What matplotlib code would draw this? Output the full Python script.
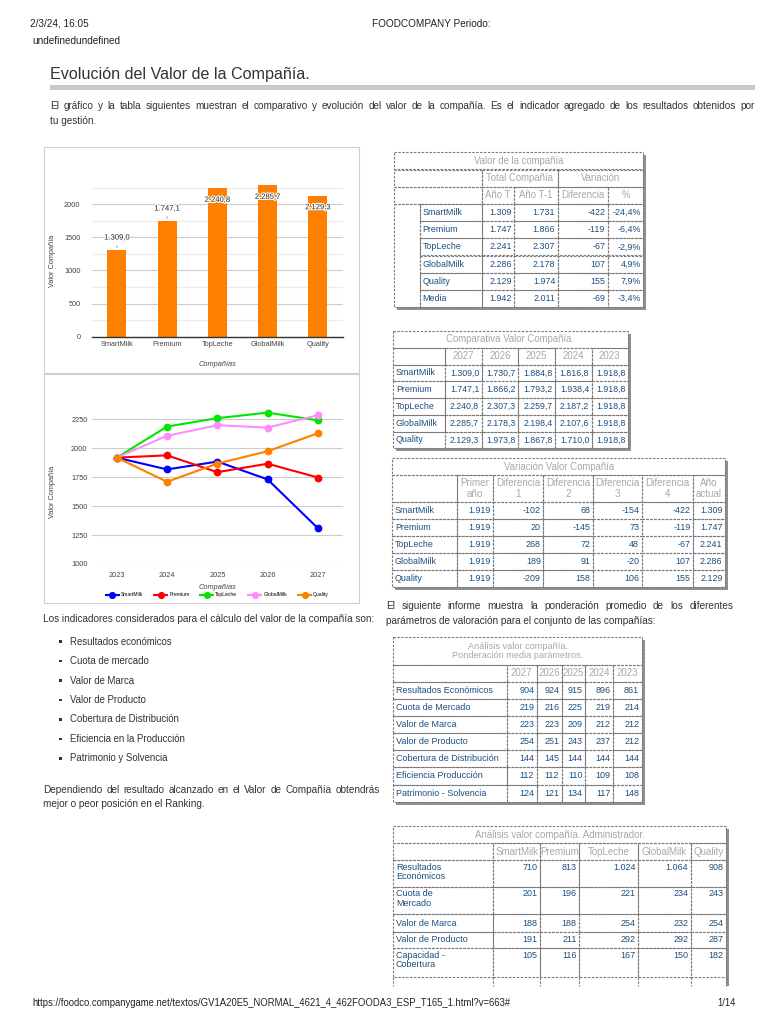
import numpy as np
import matplotlib
matplotlib.use('Agg')
import matplotlib.pyplot as plt
from matplotlib.patches import Rectangle
import matplotlib.patheffects as pe
from matplotlib.ticker import MultipleLocator

plt.rcParams['font.family'] = ['Liberation Sans', 'DejaVu Sans']

# ---------------- data ----------------
companies = ['SmartMilk', 'Premium', 'TopLeche', 'GlobalMilk', 'Quality']
years = ['2023', '2024', '2025', '2026', '2027']
value_smartmilk = [1918.8, 1816.8, 1884.8, 1730.7, 1309.0]
value_premium = [1918.8, 1938.4, 1793.2, 1866.2, 1747.1]
value_topleche = [1918.8, 2187.2, 2259.7, 2307.3, 2240.8]
value_globalmilk = [1918.8, 2107.6, 2198.4, 2178.3, 2285.7]
value_quality = [1918.8, 1710.0, 1867.8, 1973.8, 2129.3]
series_colors = ['#0000ff', '#ff0000', '#00e600', '#ff8cff', '#ff8000']

# table 1
t1_rows = ['SmartMilk', 'Premium', 'TopLeche', 'GlobalMilk', 'Quality', 'Media']
t1_anio_t = [1309, 1747, 2241, 2286, 2129, 1942]
t1_anio_t1 = [1731, 1866, 2307, 2178, 1974, 2011]
t1_diferencia = [-422, -119, -67, 107, 155, -69]
t1_pct = [-24.4, -6.4, -2.9, 4.9, 7.9, -3.4]

# table 3
t3_primer = [1919, 1919, 1919, 1919, 1919]
t3_dif1 = [-102, 20, 268, 189, -209]
t3_dif2 = [68, -145, 72, 91, 158]
t3_dif3 = [-154, 73, 48, -20, 106]
t3_dif4 = [-422, -119, -67, 107, 155]
t3_actual = [1309, 1747, 2241, 2286, 2129]

# table 4
t4_params = ['Resultados Económicos', 'Cuota de Mercado', 'Valor de Marca', 'Valor de Producto',
             'Cobertura de Distribución', 'Eficiencia Producción', 'Patrimonio - Solvencia']
t4_years = ['2027', '2026', '2025', '2024', '2023']
t4_values = [[904, 924, 915, 896, 861],
             [219, 216, 225, 219, 214],
             [223, 223, 209, 212, 212],
             [254, 251, 243, 237, 212],
             [144, 145, 144, 144, 144],
             [112, 112, 110, 109, 108],
             [124, 121, 134, 117, 148]]

# table 5
t5_params = ['Resultados\nEconómicos', 'Cuota de\nMercado', 'Valor de Marca', 'Valor de Producto',
             'Capacidad -\nCobertura']
t5_smartmilk = [710, 201, 188, 191, 105]
t5_premium = [813, 196, 188, 211, 116]
t5_topleche = [1024, 221, 254, 292, 167]
t5_globalmilk = [1064, 234, 232, 292, 150]
t5_quality = [908, 243, 254, 287, 182]

indicators = ['Resultados económicos', 'Cuota de mercado', 'Valor de Marca', 'Valor de Producto',
              'Cobertura de Distribución', 'Eficiencia en la Producción', 'Patrimonio y Solvencia']


def es_int(v):
    s = f"{abs(int(round(v))):,}".replace(',', '.')
    return ('-' if v < 0 else '') + s


def es_1(v):
    s = f"{v:,.1f}"
    return s.replace(',', 'X').replace('.', ',').replace('X', '.')


def es_pct(v):
    return f"{v:.1f}".replace('.', ',') + '%'


series = [value_smartmilk, value_premium, value_topleche, value_globalmilk, value_quality]
current_values = [s[-1] for s in series]

# ---------------- figure ----------------
W, H = 768, 1024
fig = plt.figure(figsize=(7.68, 10.24), dpi=100)
fig.patch.set_facecolor('white')
renderer = fig.canvas.get_renderer()

TXT = '#333333'
BLUE = '#1b4f80'
GREYT = '#a8a8a8'
DASH = '#7a7a7a'
FS_P = 7.2
FS_HEAD = 6.9
FS_DATA = 6.4


def axrect(x0, y0, x1, y1):
    return [x0 / W, 1 - y1 / H, (x1 - x0) / W, (y1 - y0) / H]


ov = fig.add_axes([0, 0, 1, 1])
ov.set_xlim(0, W)
ov.set_ylim(H, 0)
ov.axis('off')


def justify(x0, x1, y, text, fs=FS_P, color=TXT):
    words = text.split(' ')
    widths = []
    for w in words:
        t = ov.text(0, 0, w, fontsize=fs)
        widths.append(t.get_window_extent(renderer).width)
        t.remove()
    gap = (x1 - x0 - sum(widths)) / (len(words) - 1)
    x = x0
    for w, wd in zip(words, widths):
        ov.text(x, y, w, fontsize=fs, color=color, va='center')
        x += wd + gap


# header / footer
ov.text(30, 24, '2/3/24, 16:05', fontsize=7.2, color='#222', va='center')
ov.text(372, 24, 'FOODCOMPANY Periodo:', fontsize=7.2, color='#222', va='center')
ov.text(32, 41, 'undefinedundefined', fontsize=7.2, color='#222', va='center')
ov.text(32, 1003, 'https://foodco.companygame.net/textos/GV1A20E5_NORMAL_4621_4_462FOODA3_ESP_T165_1.html?v=663#',
        fontsize=6.85, color='#222', va='center')
ov.text(736, 1003, '1/14', fontsize=6.85, color='#222', va='center', ha='right')

ov.text(50, 75, 'Evolución del Valor de la Compañía.', fontsize=11.6, color=TXT, va='center')
ov.add_patch(Rectangle((50, 84.5), 705, 5.5, fc='#c9c9c9', ec='none'))
justify(50, 755, 106, 'El gráfico y la tabla siguientes muestran el comparativo y evolución del valor de la compañía. '
        'Es el indicador agregado de los resultados obtenidos por')
ov.text(50, 121, 'tu gestión.', fontsize=FS_P, color=TXT, va='center')

# left text block
ov.text(43, 619, 'Los indicadores considerados para el cálculo del valor de la compañía son:',
        fontsize=FS_P, color=TXT, va='center')
for i, name in enumerate(indicators):
    yy = 641.7 + i * 19.43
    ov.add_patch(Rectangle((59, yy - 1.3), 2.6, 2.6, fc='#333', ec='none'))
    ov.text(69.5, yy, name, fontsize=6.9, color=TXT, va='center')
justify(43, 380, 790, 'Dependiendo del resultado alcanzado en el Valor de Compañía obtendrás')
ov.text(43, 804, 'mejor o peor posición en el Ranking.', fontsize=FS_P, color=TXT, va='center')

justify(386, 733, 606, 'El siguiente informe muestra la ponderación promedio de los diferentes')
ov.text(386, 621, 'parámetros de valoración para el conjunto de las compañías:',
        fontsize=FS_P, color=TXT, va='center')

# chart frames
ov.add_patch(Rectangle((44, 147), 315, 226, fill=False, ec='#cfcfcf', lw=0.8))
ov.add_patch(Rectangle((44, 374), 315, 229, fill=False, ec='#cfcfcf', lw=0.8))

# ---------------- bar chart ----------------
ax1 = fig.add_axes(axrect(91.7, 184.4, 343, 336.7))
ax1.set_facecolor('none')
xpos = np.arange(len(companies))
ax1.bar(xpos, current_values, width=0.38, color='#ff8000', zorder=3)
ax1.set_xlim(-0.5, 4.5)
ax1.set_ylim(0, 2300)
ax1.yaxis.set_major_locator(MultipleLocator(500))
ax1.yaxis.set_minor_locator(MultipleLocator(250))
ax1.set_yticks([0, 500, 1000, 1500, 2000])
ax1.grid(axis='y', which='major', color='#cccccc', lw=0.8, zorder=0)
ax1.grid(axis='y', which='minor', color='#ececec', lw=0.8, zorder=0)
for s in ['top', 'right', 'left']:
    ax1.spines[s].set_visible(False)
ax1.spines['bottom'].set_color('#333333')
ax1.spines['bottom'].set_linewidth(1.0)
ax1.spines['bottom'].set_zorder(4)
ax1.tick_params(axis='both', which='both', length=0, labelsize=5.3, colors='#444444')
ax1.tick_params(axis='y', pad=8)
ax1.tick_params(axis='x', pad=3)
ax1.set_xticks(xpos)
ax1.set_xticklabels(companies)
ax1.set_ylabel('Valor Compañía', fontsize=5.3, color='#444444')
ax1.yaxis.set_label_coords(-0.142, 0.5)
ax1.set_xlabel('Compañías', fontsize=5.3, color='#444444', style='italic')
ax1.xaxis.set_label_coords(0.5, -0.158)
for xi, v in zip(xpos, current_values):
    inside = v > 2000
    off = -12 if inside else 12
    ax1.annotate(es_1(v), (xi, v), xytext=(0, off * 0.72), textcoords='offset points',
                 ha='center', va='center', fontsize=5.5, color='#222222', zorder=6,
                 path_effects=[pe.withStroke(linewidth=1.6, foreground='white')])
    ax1.annotate('', (xi, v), xytext=(0, (-5 if inside else 5)), textcoords='offset points',
                 arrowprops=dict(arrowstyle='-', color='#888888', lw=0.7), zorder=5)

# ---------------- line chart ----------------
ax2 = fig.add_axes(axrect(91.7, 407.7, 343, 564))
ax2.set_facecolor('none')
xl = np.arange(len(years))
for name, vals, col in zip(companies, series, series_colors):
    ax2.plot(xl, vals, '-o', color=col, lw=1.5, ms=4.6, label=name, zorder=3, clip_on=False)
ax2.set_xlim(-0.5, 4.5)
ax2.set_ylim(1000, 2350)
ax2.set_yticks([1000, 1250, 1500, 1750, 2000, 2250])
ax2.grid(axis='y', color='#cccccc', lw=0.8, zorder=0)
for s in ['top', 'right', 'left', 'bottom']:
    ax2.spines[s].set_visible(False)
ax2.tick_params(axis='both', length=0, labelsize=5.3, colors='#444444')
ax2.tick_params(axis='y', pad=3)
ax2.tick_params(axis='x', pad=6)
ax2.set_xticks(xl)
ax2.set_xticklabels(years)
ax2.set_ylabel('Valor Compañía', fontsize=5.3, color='#444444')
ax2.yaxis.set_label_coords(-0.142, 0.46)
ax2.set_xlabel('Compañías', fontsize=5.3, color='#444444', style='italic')
ax2.xaxis.set_label_coords(0.5, -0.128)
ax2.legend(loc='center', bbox_to_anchor=(0.5, -0.198), ncol=5, fontsize=3.6, frameon=False,
           handlelength=2.6, columnspacing=2.2, handletextpad=0.4, markerscale=0.9)


# ---------------- tables ----------------
def box(x0, y0, x1, y1):
    ov.add_patch(Rectangle((x0 + 3, y0 + 3), x1 - x0, y1 - y0, fc='#8f8f8f', ec='none'))
    ov.add_patch(Rectangle((x0, y0), x1 - x0, y1 - y0, fc='white', ec='none'))


def cell(x0, x1, y0, y1, text='', ha='right', color=BLUE, va='center', fs=FS_DATA, pad=2.5):
    ov.add_patch(Rectangle((x0, y0), x1 - x0, y1 - y0, fill=False, ec=DASH, lw=0.8,
                           ls=(0, (2.2, 1.3))))
    if text:
        if ha == 'right':
            tx = x1 - pad
        elif ha == 'left':
            tx = x0 + pad
        else:
            tx = (x0 + x1) / 2
        ty = (y0 + y1) / 2 if va == 'center' else y0 + 2.5
        ov.text(tx, ty, text, ha=ha, va=va, fontsize=fs, color=color, linespacing=1.05)


def head(x0, x1, y0, y1, text, fs=FS_HEAD):
    cell(x0, x1, y0, y1, text, ha='center', color=GREYT, fs=fs)


# Table 1
xe = [394.3, 420, 481.7, 514.3, 557.7, 607.7, 643.3]
ye = [152.3 + 17.2 * k for k in range(10)]
box(xe[0], ye[0], xe[-1], ye[-1])
head(xe[0], xe[-1], ye[0], ye[1], 'Valor de la compañía')
cell(xe[0], xe[2], ye[1], ye[2])
head(xe[2], xe[4], ye[1], ye[2], 'Total Compañía')
head(xe[4], xe[6], ye[1], ye[2], 'Variación')
cell(xe[0], xe[2], ye[2], ye[3])
for j, h in enumerate(['Año T', 'Año T-1', 'Diferencia', '%']):
    head(xe[2 + j], xe[3 + j], ye[2], ye[3], h)
cell(xe[0], xe[1], ye[3], ye[9])
for i, name in enumerate(t1_rows):
    y0, y1 = ye[3 + i], ye[4 + i]
    cell(xe[1], xe[2], y0, y1, name, ha='left')
    cell(xe[2], xe[3], y0, y1, es_int(t1_anio_t[i]))
    cell(xe[3], xe[4], y0, y1, es_int(t1_anio_t1[i]))
    cell(xe[4], xe[5], y0, y1, es_int(t1_diferencia[i]))
    cell(xe[5], xe[6], y0, y1, es_pct(t1_pct[i]))

# Table 2
xe = [393.3, 445, 481.7, 518.3, 555, 591.7, 627.7]
ye = [331 + 16.75 * k for k in range(8)]
box(xe[0], ye[0], xe[-1], ye[-1])
head(xe[0], xe[-1], ye[0], ye[1], 'Comparativa Valor Compañía.')
cell(xe[0], xe[1], ye[1], ye[2])
for j, yr in enumerate(years[::-1]):
    head(xe[1 + j], xe[2 + j], ye[1], ye[2], yr)
for i, (name, vals) in enumerate(zip(companies, series)):
    y0, y1 = ye[2 + i], ye[3 + i]
    cell(xe[0], xe[1], y0, y1, name, ha='left')
    for j, v in enumerate(vals[::-1]):
        cell(xe[1 + j], xe[2 + j], y0, y1, es_1(v), fs=6.3)

# Table 3
xe = [392.3, 456.7, 493.3, 543.3, 593.3, 641.7, 693.3, 725]
ye = [458.3, 475, 501.7] + [501.7 + 17 * k for k in range(1, 6)]
box(xe[0], ye[0], xe[-1], ye[-1])
head(xe[0], xe[-1], ye[0], ye[1], 'Variación Valor Compañía')
cell(xe[0], xe[1], ye[1], ye[2])
t3_heads = ['Primer\naño', 'Diferencia\n1', 'Diferencia\n2', 'Diferencia\n3', 'Diferencia\n4', 'Año\nactual']
for j, h in enumerate(t3_heads):
    head(xe[1 + j], xe[2 + j], ye[1], ye[2], h, fs=7.1)
t3_cols = [t3_primer, t3_dif1, t3_dif2, t3_dif3, t3_dif4, t3_actual]
for i, name in enumerate(companies):
    y0, y1 = ye[2 + i], ye[3 + i]
    cell(xe[0], xe[1], y0, y1, name, ha='left')
    for j, col in enumerate(t3_cols):
        cell(xe[1 + j], xe[2 + j], y0, y1, es_int(col[i]))

# Table 4
xe = [393.3, 506.7, 536.7, 561.7, 585, 613.3, 641.7]
ye = [636.7, 665, 681.7] + [681.7 + 17.14 * k for k in range(1, 8)]
box(xe[0], ye[0], xe[-1], ye[-1])
head(xe[0], xe[-1], ye[0], ye[1], 'Análisis valor compañía.\nPonderación media parámetros.', fs=6.6)
cell(xe[0], xe[1], ye[1], ye[2])
for j, yr in enumerate(t4_years):
    head(xe[1 + j], xe[2 + j], ye[1], ye[2], yr)
for i, name in enumerate(t4_params):
    y0, y1 = ye[2 + i], ye[3 + i]
    cell(xe[0], xe[1], y0, y1, name, ha='left', fs=6.5)
    for j, v in enumerate(t4_values[i]):
        cell(xe[1 + j], xe[2 + j], y0, y1, es_int(v), fs=6.5)

# Table 5 (cut by page break)
xe = [393.3, 493.3, 540, 579.3, 638.3, 690.7, 725.7]
ye = [826, 843.3, 860, 886.7, 914.3, 931.7, 948.3, 976.7]
ycut = 986
ov.add_patch(Rectangle((xe[-1], ye[0] + 3), 3.5, ycut - ye[0] - 3, fc='#8f8f8f', ec='none'))
head(xe[0], xe[-1], ye[0], ye[1], 'Análisis valor compañía. Administrador.', fs=7.0)
cell(xe[0], xe[1], ye[1], ye[2])
for j, name in enumerate(companies):
    head(xe[1 + j], xe[2 + j], ye[1], ye[2], name, fs=7.0)
t5_cols = [t5_smartmilk, t5_premium, t5_topleche, t5_globalmilk, t5_quality]
for i, name in enumerate(t5_params):
    y0, y1 = ye[2 + i], ye[3 + i]
    two = '\n' in name
    cell(xe[0], xe[1], y0, y1, name, ha='left', va='top' if two else 'center', fs=6.5)
    for j, col in enumerate(t5_cols):
        cell(xe[1 + j], xe[2 + j], y0, y1, es_int(col[i]), va='top' if two else 'center', fs=6.5)
for xx in xe:
    ov.plot([xx, xx], [ye[-1], ycut], color=DASH, lw=0.8, ls=(0, (2.2, 1.3)))

fig.savefig('out.png', dpi=100, facecolor='white')
